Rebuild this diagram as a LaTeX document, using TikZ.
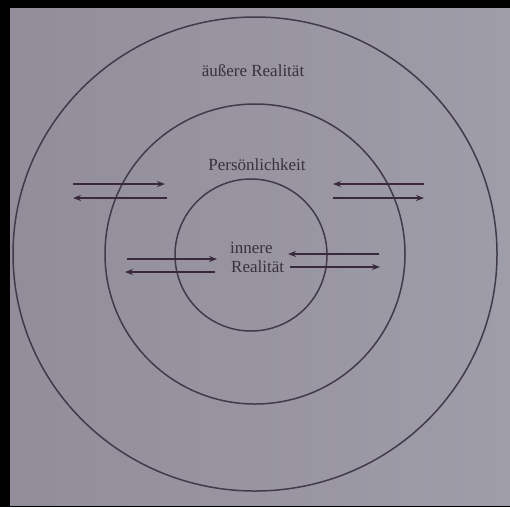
\documentclass[tikz,border=0pt]{standalone}
\usepackage{fontspec}
\setmainfont{Liberation Serif}
\usetikzlibrary{arrows.meta}
\definecolor{pageL}{RGB}{146,141,153}
\definecolor{pageR}{RGB}{158,157,168}
\definecolor{ink}{RGB}{66,58,74}
\definecolor{arrowink}{RGB}{58,40,60}
\definecolor{txt}{RGB}{58,48,62}
\tikzset{
  ring/.style={draw=ink, line width=1.5pt},
  label/.style={text=txt, font=\fontsize{17}{20}\selectfont, inner sep=0pt},
  flow/.style={draw=arrowink, line width=2pt, -{Stealth[length=8pt,width=6pt]}}
}
\begin{document}
\begin{tikzpicture}[x=1pt,y=-1pt]
\useasboundingbox (0,0) rectangle (510,507);
\fill[black] (0,0) rectangle (510,507);
\shade[left color=pageL, right color=pageR] (10,8) rectangle (510,505);
% circles
\draw[ring] (255,254) ellipse [x radius=242, y radius=237];
\draw[ring] (255,254) circle [radius=150];
\draw[ring] (251,255) circle [radius=76];
% labels
\node[label] (outer) at (253,71) {äußere Realität};
\node[label] (pers) at (257,165) {Persönlichkeit};
\node[label, anchor=west] (inn1) at (230,248) {innere};
\node[label, anchor=west] (inn2) at (231,267) {Realität};
% coordinates
\coordinate (a1s) at (73,184); \coordinate (a1e) at (165,184);
\coordinate (a2s) at (167,198); \coordinate (a2e) at (73,198);
\coordinate (b1s) at (424,184); \coordinate (b1e) at (333,184);
\coordinate (b2s) at (333,198); \coordinate (b2e) at (424,198);
\coordinate (c1s) at (127,259); \coordinate (c1e) at (217,259);
\coordinate (c2s) at (215,272); \coordinate (c2e) at (125,272);
\coordinate (d1s) at (379,254); \coordinate (d1e) at (288,254);
\coordinate (d2s) at (290,267); \coordinate (d2e) at (380,267);
\draw[flow] (a1s) -- (a1e);
\draw[flow] (a2s) -- (a2e);
\draw[flow] (b1s) -- (b1e);
\draw[flow] (b2s) -- (b2e);
\draw[flow] (c1s) -- (c1e);
\draw[flow] (c2s) -- (c2e);
\draw[flow] (d1s) -- (d1e);
\draw[flow] (d2s) -- (d2e);
\end{tikzpicture}
\end{document}
